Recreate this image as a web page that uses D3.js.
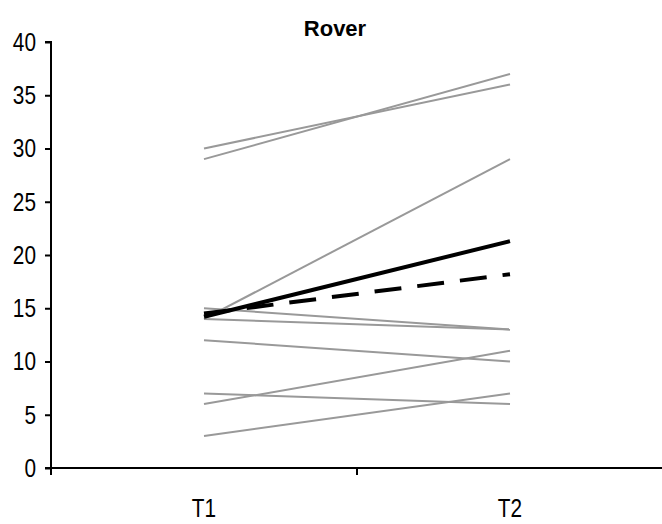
<!DOCTYPE html>
<html><head><meta charset="utf-8">
<script src="https://cdn.jsdelivr.net/npm/d3@7"></script>
<style>body{margin:0;background:#fff}svg{display:block}text{font-family:"Liberation Sans",Arial,sans-serif}</style>
</head><body><svg id="c" width="662" height="524"></svg>
<script>
const title = "Rover";
const categories = ["T1", "T2"];
const yTicks = [0, 5, 10, 15, 20, 25, 30, 35, 40];
const individuals = [
  [30, 36], [29, 37], [14, 29], [15, 13], [14, 13],
  [12, 10], [7, 6], [6, 11], [3, 7]
];
const solidMean = [14.2, 21.3];
const dashedMean = [14.5, 18.2];

const svg = d3.select("#c");
const L = 51, R = 663, T = 42, B = 468;
const x = d3.scaleBand().domain(categories).range([L, R]);
const y = d3.scaleLinear().domain([0, 40]).range([B, T]);
const cx = c => x(c) + x.bandwidth() / 2;
const line = d3.line().x((d, i) => cx(categories[i])).y(d => y(d));
const SX = 0.8;

svg.append("g").selectAll("path").data(individuals).join("path")
  .attr("d", line).attr("fill", "none").attr("stroke", "#999").attr("stroke-width", 2);
svg.append("path").datum(dashedMean).attr("d", line).attr("fill", "none")
  .attr("stroke", "#000").attr("stroke-width", 4).attr("stroke-dasharray", "27,16");
svg.append("path").datum(solidMean).attr("d", line).attr("fill", "none")
  .attr("stroke", "#000").attr("stroke-width", 4);

// y axis
const ya = svg.append("g").attr("transform", `translate(${L},0)`)
  .call(d3.axisLeft(y).tickValues(yTicks).tickSize(6).tickPadding(5));
ya.attr("font-family", null).attr("font-size", null);
ya.select(".domain").attr("stroke-width", 2).attr("d", `M-6,${T}H0V${B}H-6`);
ya.selectAll(".tick line").attr("stroke-width", 2);
ya.selectAll("text").style("font-size", "26px").attr("fill", "#000")
  .attr("transform", `scale(${SX},1)`).attr("x", -15 / SX);

// x axis
const xa = svg.append("g").attr("transform", `translate(0,${B})`);
xa.append("line").attr("x1", L).attr("x2", R).attr("stroke", "#000").attr("stroke-width", 2);
const bounds = [L, ...categories.slice(1).map(c => x(c))];
xa.selectAll("line.tk").data(bounds).join("line").attr("class", "tk")
  .attr("x1", d => d).attr("x2", d => d).attr("y1", 0).attr("y2", 7)
  .attr("stroke", "#000").attr("stroke-width", 2);
xa.selectAll("text").data(categories).join("text")
  .attr("transform", d => `translate(${cx(d)},49) scale(${SX},1)`).attr("text-anchor", "middle")
  .style("font-size", "26px").attr("fill", "#000").text(d => d);

svg.append("text").attr("x", 335).attr("y", 36).attr("text-anchor", "middle")
  .style("font-size", "22px").attr("font-weight", "bold").text(title);
</script></body></html>
